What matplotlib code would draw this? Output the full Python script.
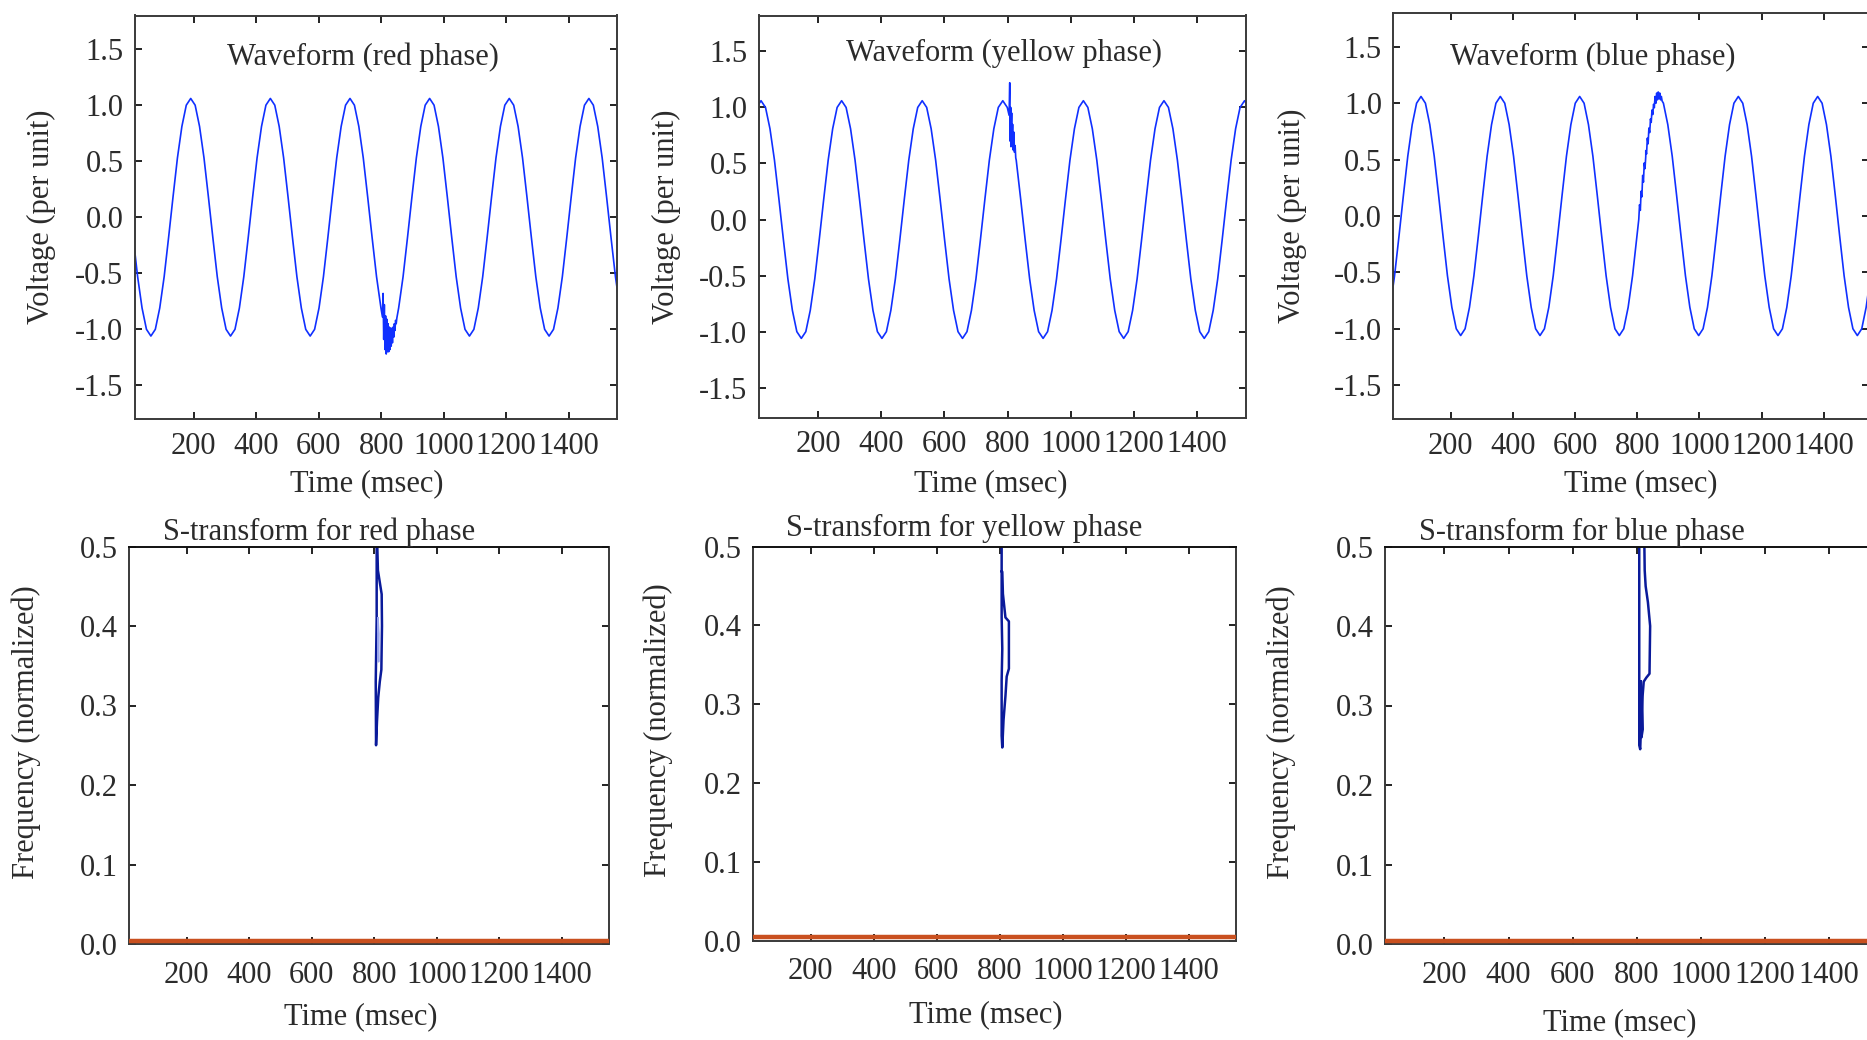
import numpy as np
import matplotlib
matplotlib.use("Agg")
import matplotlib.pyplot as plt
from matplotlib.ticker import FormatStrFormatter

plt.rcParams['font.family'] = ['Liberation Serif', 'DejaVu Serif']
plt.rcParams['axes.unicode_minus'] = False

# ---------------- data ----------------
# sample times (msec) of the waveforms
TIME = [5.8, 20.0, 34.2, 48.3, 62.5, 76.7, 90.8, 105.0, 119.2, 133.3, 147.5, 161.7, 175.8,
        190.0, 204.2, 218.3, 232.5, 246.7, 260.8, 275.0, 289.2, 303.3, 317.5, 331.7, 345.8,
        360.0, 374.2, 388.3, 402.5, 416.7, 430.8, 445.0, 459.2, 473.3, 487.5, 501.7, 515.8,
        530.0, 544.2, 558.3, 572.5, 586.7, 600.8, 615.0, 629.2, 643.3, 657.5, 671.7, 685.8,
        700.0, 714.2, 728.3, 742.5, 756.7, 770.8, 785.0, 799.2, 813.3, 827.5, 841.7, 855.8,
        870.0, 884.2, 898.3, 912.5, 926.7, 940.8, 955.0, 969.2, 983.3, 997.5, 1011.7, 1025.8,
        1040.0, 1054.2, 1068.3, 1082.5, 1096.7, 1110.8, 1125.0, 1139.2, 1153.3, 1167.5, 1181.7,
        1195.8, 1210.0, 1224.2, 1238.3, 1252.5, 1266.7, 1280.8, 1295.0, 1309.2, 1323.3, 1337.5,
        1351.7, 1365.8, 1380.0, 1394.2, 1408.3, 1422.5, 1436.7, 1450.8, 1465.0, 1479.2, 1493.3,
        1507.5, 1521.7, 1535.8, 1550.0, 1564.2]

V_RED = [-0.18, -0.53, -0.81, -1.00, -1.06, -1.00, -0.81, -0.53, -0.18, 0.18, 0.53, 0.81, 1.00,
         1.06, 1.00, 0.81, 0.53, 0.18, -0.18, -0.53, -0.81, -1.00, -1.06, -1.00, -0.81, -0.53, -0.18, 0.18, 0.53, 0.81, 1.00,
         1.06, 1.00, 0.81, 0.53, 0.18, -0.18, -0.53, -0.81, -1.00, -1.06, -1.00, -0.81, -0.53, -0.18, 0.18, 0.53, 0.81, 1.00,
         1.06, 1.00, 0.81, 0.53, 0.18, -0.18, -0.53, -0.81, -1.00, -1.06, -1.00, -0.81, -0.53, -0.18, 0.18, 0.53, 0.81, 1.00,
         1.06, 1.00, 0.81, 0.53, 0.18, -0.18, -0.53, -0.81, -1.00, -1.06, -1.00, -0.81, -0.53, -0.18, 0.18, 0.53, 0.81, 1.00,
         1.06, 1.00, 0.81, 0.53, 0.18, -0.18, -0.53, -0.81, -1.00, -1.06, -1.00, -0.81, -0.53, -0.18, 0.18, 0.53, 0.81, 1.00,
         1.06, 1.00, 0.81, 0.53, 0.18, -0.18, -0.53, -0.81]

V_YELLOW = [1.00,
            1.06, 1.00, 0.81, 0.53, 0.18, -0.18, -0.53, -0.81, -1.00, -1.06, -1.00, -0.81, -0.53, -0.18, 0.18, 0.53, 0.81, 1.00,
            1.06, 1.00, 0.81, 0.53, 0.18, -0.18, -0.53, -0.81, -1.00, -1.06, -1.00, -0.81, -0.53, -0.18, 0.18, 0.53, 0.81, 1.00,
            1.06, 1.00, 0.81, 0.53, 0.18, -0.18, -0.53, -0.81, -1.00, -1.06, -1.00, -0.81, -0.53, -0.18, 0.18, 0.53, 0.81, 1.00,
            1.06, 1.00, 0.81, 0.53, 0.18, -0.18, -0.53, -0.81, -1.00, -1.06, -1.00, -0.81, -0.53, -0.18, 0.18, 0.53, 0.81, 1.00,
            1.06, 1.00, 0.81, 0.53, 0.18, -0.18, -0.53, -0.81, -1.00, -1.06, -1.00, -0.81, -0.53, -0.18, 0.18, 0.53, 0.81, 1.00,
            1.06, 1.00, 0.81, 0.53, 0.18, -0.18, -0.53, -0.81, -1.00, -1.06, -1.00, -0.81, -0.53, -0.18, 0.18, 0.53, 0.81, 1.00,
            1.06, 1.00]

V_BLUE = [-0.81, -0.53, -0.18, 0.18, 0.53, 0.81, 1.00,
          1.06, 1.00, 0.81, 0.53, 0.18, -0.18, -0.53, -0.81, -1.00, -1.06, -1.00, -0.81, -0.53, -0.18, 0.18, 0.53, 0.81, 1.00,
          1.06, 1.00, 0.81, 0.53, 0.18, -0.18, -0.53, -0.81, -1.00, -1.06, -1.00, -0.81, -0.53, -0.18, 0.18, 0.53, 0.81, 1.00,
          1.06, 1.00, 0.81, 0.53, 0.18, -0.18, -0.53, -0.81, -1.00, -1.06, -1.00, -0.81, -0.53, -0.18, 0.18, 0.53, 0.81, 1.00,
          1.06, 1.00, 0.81, 0.53, 0.18, -0.18, -0.53, -0.81, -1.00, -1.06, -1.00, -0.81, -0.53, -0.18, 0.18, 0.53, 0.81, 1.00,
          1.06, 1.00, 0.81, 0.53, 0.18, -0.18, -0.53, -0.81, -1.00, -1.06, -1.00, -0.81, -0.53, -0.18, 0.18, 0.53, 0.81, 1.00,
          1.06, 1.00, 0.81, 0.53, 0.18, -0.18, -0.53, -0.81, -1.00, -1.06, -1.00, -0.81, -0.53, -0.18]

# disturbance segments (dense samples)
T_DIST_RED = [804, 806, 808, 810, 812, 814, 816, 818, 820, 822, 824, 826, 828, 830, 832, 834,
              836, 838, 840, 842, 844, 846, 848, 850]
V_DIST_RED = [-0.89, -0.68, -1.09, -0.78, -1.18, -0.88, -1.22, -0.91, -1.20, -0.95, -1.20, -0.98,
              -1.18, -0.99, -1.15, -0.99, -1.12, -0.98, -1.07, -0.95, -1.01, -0.92, -0.95, -0.90]

T_DIST_YELLOW = [805, 807, 808, 810, 811, 813, 814, 816, 818, 820, 822, 824, 826]
V_DIST_YELLOW = [0.93, 1.22, 0.70, 1.00, 0.65, 0.95, 0.68, 0.85, 0.62, 0.78, 0.60, 0.66, 0.55]

T_DIST_BLUE = [805, 807.5, 810, 812.5, 815, 817.5, 820, 822.5, 825, 827.5, 830, 832.5, 835, 837.5,
               840, 842.5, 845, 847.5, 850, 852.5, 855, 857.5, 860, 862.5, 865, 867.5, 870, 872.5,
               875, 877.5, 880]
V_DIST_BLUE = [-0.03, 0.10, 0.05, 0.22, 0.17, 0.36, 0.30, 0.47, 0.42, 0.58, 0.55, 0.69, 0.64, 0.78,
               0.74, 0.86, 0.83, 0.94, 0.90, 0.99, 0.96, 1.06, 1.00, 1.09, 1.03, 1.10, 1.04, 1.09,
               1.03, 1.06, 1.02]

# S-transform contour outlines (time msec, normalized frequency)
ST_RED_T = [808, 808, 805, 806, 809, 813, 818, 823, 825, 824, 818, 812, 810]
ST_RED_F = [0.50, 0.41, 0.33, 0.25, 0.28, 0.31, 0.33, 0.345, 0.40, 0.44, 0.455, 0.47, 0.50]
ST_RED_IN_T = [812, 815, 814, 812, 812]
ST_RED_IN_F = [0.41, 0.39, 0.355, 0.38, 0.41]

ST_YEL_T = [806, 806, 808, 810, 818, 829, 829, 822, 818, 812, 808, 806, 806, 808, 806, 806]
ST_YEL_F = [0.50, 0.468, 0.468, 0.44, 0.41, 0.405, 0.345, 0.335, 0.31, 0.28, 0.245, 0.26, 0.33,
            0.37, 0.41, 0.468]

ST_BLU_T = [808, 808, 808, 811, 814, 818, 822, 830, 840, 842, 835, 828, 825, 824]
ST_BLU_F = [0.50, 0.40, 0.25, 0.245, 0.28, 0.31, 0.33, 0.335, 0.34, 0.40, 0.43, 0.45, 0.47, 0.50]
ST_BLU_IN_T = [812, 816, 818, 814, 812]
ST_BLU_IN_F = [0.33, 0.31, 0.27, 0.26, 0.33]

FUND_FREQ = 0.004   # fundamental component line (red/orange)

WAVE_TITLES = ["Waveform (red phase)", "Waveform (yellow phase)", "Waveform (blue phase)"]
ST_TITLES = ["S-transform for red phase", "S-transform for yellow phase", "S-transform for blue phase"]
X_TICKS = [200, 400, 600, 800, 1000, 1200, 1400]
V_TICKS = [-1.5, -1.0, -0.5, 0.0, 0.5, 1.0, 1.5]
F_TICKS = [0.0, 0.1, 0.2, 0.3, 0.4, 0.5]

# ---------------- figure ----------------
W, H = 1867, 1040
fig = plt.figure(figsize=(W / 100, H / 100), dpi=100)

def frac(l, t, r, b):
    return [l / W, 1 - b / H, (r - l) / W, (b - t) / H]

TXT = '#2b2b2b'
FS = 22

top_boxes = [frac(134.5, 15.5, 617, 419), frac(758.5, 15.5, 1245.5, 418), frac(1393, 13, 1869, 419)]
top_xlim = [(10, 1555), (12, 1553), (15, 1545)]
top_ylim = [(-1.8, 1.8), (-1.77, 1.82), (-1.8, 1.8)]
top_title_pos = [(0.474, 0.897), (0.504, 0.905), (0.42, 0.89)]
top_ylab_x = [-0.192, -0.188, -0.212]
top_xlab = [(0.481, -0.16), (0.477, -0.163), (0.52, -0.16)]

bot_boxes = [frac(128.6, 546.5, 608.5, 944), frac(752.5, 546.5, 1236, 940.6), frac(1385, 546.5, 1877, 944)]
bot_xlim = [(14, 1550), (15, 1550), (14.5, 1550)]
bot_title_pos = [(0.397, 1.036), (0.438, 1.045), (0.40, 1.036)]
bot_ylab_x = [-0.214, -0.194, -0.21]
bot_xlab = [(0.484, -0.182), (0.483, -0.187), (0.477, -0.197)]

wave_series = [(V_RED, T_DIST_RED, V_DIST_RED),
               (V_YELLOW, T_DIST_YELLOW, V_DIST_YELLOW),
               (V_BLUE, T_DIST_BLUE, V_DIST_BLUE)]

def style(ax, xpad):
    for s in ax.spines.values():
        s.set_color('#3a3a3a')
        s.set_linewidth(1.4)
    ax.tick_params(direction='in', length=5, width=1.4, top=True, right=True,
                   labelsize=FS, labelcolor=TXT, color='#222222', pad=8)
    ax.tick_params(axis='x', pad=xpad)

def labels(ax, xl, yl, xpos, ypos):
    ax.set_xlabel(xl, fontsize=FS, color=TXT, va='center')
    ax.xaxis.set_label_coords(*xpos)
    ax.set_ylabel(yl, fontsize=FS, color=TXT, va='center')
    ax.yaxis.set_label_coords(*ypos)

for i in range(3):
    ax = fig.add_axes(top_boxes[i])
    v, td, vd = wave_series[i]
    t_all = np.concatenate([np.array(TIME), np.array(td, dtype=float)])
    v_all = np.concatenate([np.array(v), np.array(vd)])
    order = np.argsort(t_all, kind='stable')
    ax.plot(t_all[order], v_all[order], color='#1030ff', lw=1.2)
    ax.set_xlim(*top_xlim[i])
    ax.set_ylim(*top_ylim[i])
    ax.set_xticks(X_TICKS)
    ax.set_yticks(V_TICKS)
    ax.yaxis.set_major_formatter(FormatStrFormatter('%.1f'))
    style(ax, 9)
    ax.text(top_title_pos[i][0], top_title_pos[i][1], WAVE_TITLES[i], transform=ax.transAxes,
            ha='center', va='center', fontsize=FS, color=TXT)
    labels(ax, "Time (msec)", "Voltage (per unit)", top_xlab[i], (top_ylab_x[i], 0.5))

st_series = [[(ST_RED_T, ST_RED_F, '#0a1a9a', 1.8), (ST_RED_IN_T, ST_RED_IN_F, '#9aa6ee', 1.2)],
             [(ST_YEL_T, ST_YEL_F, '#0a1a9a', 1.8)],
             [(ST_BLU_T, ST_BLU_F, '#0a1a9a', 1.8), (ST_BLU_IN_T, ST_BLU_IN_F, '#0a1a9a', 2.2)]]

for i in range(3):
    ax = fig.add_axes(bot_boxes[i])
    ax.axhline(FUND_FREQ, color='#c9501f', lw=3.2, zorder=3)
    for (tt, ff, c, lw) in st_series[i]:
        ax.plot(tt, ff, color=c, lw=lw)
    ax.set_xlim(*bot_xlim[i])
    ax.set_ylim(0, 0.5)
    ax.set_xticks(X_TICKS)
    ax.set_yticks(F_TICKS)
    ax.yaxis.set_major_formatter(FormatStrFormatter('%.1f'))
    style(ax, 12)
    ax.spines['top'].set_color('#111111')
    ax.text(bot_title_pos[i][0], bot_title_pos[i][1], ST_TITLES[i], transform=ax.transAxes,
            ha='center', va='center', fontsize=FS, color=TXT)
    labels(ax, "Time (msec)", "Frequency (normalized)", bot_xlab[i], (bot_ylab_x[i], 0.533))

fig.savefig("out.png", dpi=100, facecolor='white')
